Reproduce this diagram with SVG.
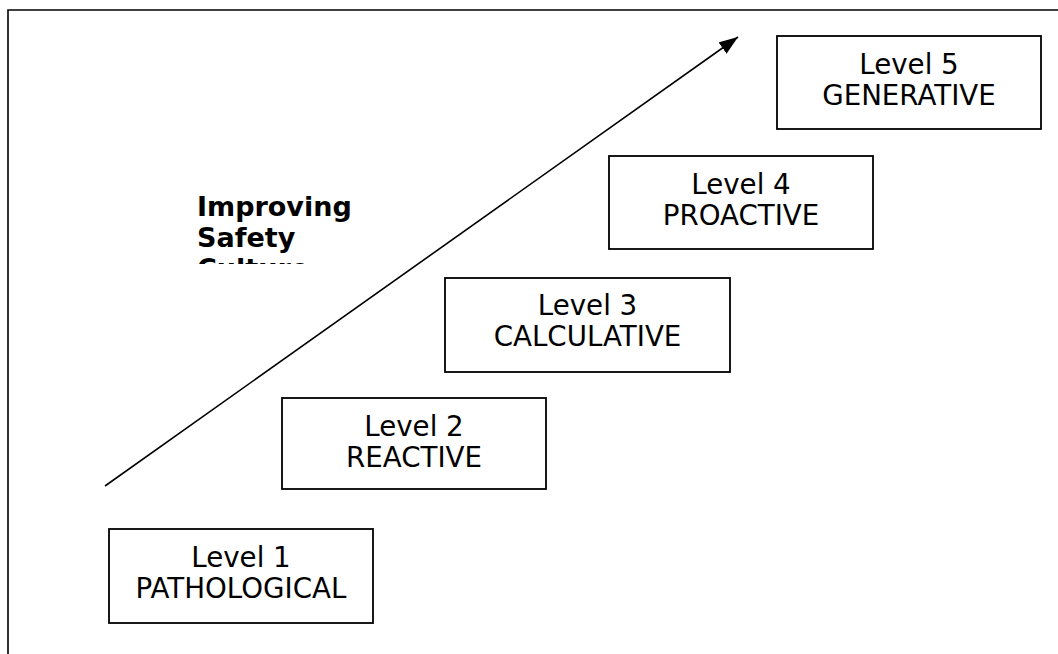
<svg xmlns="http://www.w3.org/2000/svg" width="1058" height="654" viewBox="0 0 1058 654">
  <style>
    .box { fill: #ffffff; stroke: #000000; stroke-width: 1.8; }
    .lbl { font-family: "DejaVu Sans", Verdana, sans-serif; font-size: 27.7px; fill: #000000; text-anchor: middle; }
    .title { font-family: "DejaVu Sans", Verdana, sans-serif; font-size: 27px; font-weight: bold; fill: #000000; }
    .conn { stroke: #000000; stroke-width: 1.6; fill: none; }
  </style>
  <defs>
    <marker id="arrow" markerUnits="userSpaceOnUse" markerWidth="22" markerHeight="16" refX="19" refY="7" orient="auto">
      <path d="M0,0 L19,7 L0,14 z" fill="#000000"/>
    </marker>
    <clipPath id="titleClip">
      <rect x="180" y="180" width="220" height="84"/>
    </clipPath>
  </defs>
  <rect width="1058" height="654" fill="#ffffff"/>
  <path d="M8,654 V10 H1058" fill="none" stroke="#000000" stroke-width="1.6"/>

  <g id="title" clip-path="url(#titleClip)">
    <text class="title" x="197" y="216">Improving</text>
    <text class="title" x="197" y="247">Safety</text>
    <text class="title" x="197" y="278">Culture</text>
  </g>

  <g id="connectors">
    <line class="conn" x1="105" y1="486" x2="738" y2="37" marker-end="url(#arrow)"/>
  </g>

  <g id="level1">
    <rect class="box" x="109" y="529" width="264" height="94"/>
    <text class="lbl" x="241" y="567">Level 1</text>
    <text class="lbl" x="241" y="598">PATHOLOGICAL</text>
  </g>
  <g id="level2">
    <rect class="box" x="282" y="398" width="264" height="91"/>
    <text class="lbl" x="414" y="436">Level 2</text>
    <text class="lbl" x="414" y="467">REACTIVE</text>
  </g>
  <g id="level3">
    <rect class="box" x="445" y="278" width="285" height="94"/>
    <text class="lbl" x="587.5" y="315">Level 3</text>
    <text class="lbl" x="587.5" y="346">CALCULATIVE</text>
  </g>
  <g id="level4">
    <rect class="box" x="609" y="156" width="264" height="93"/>
    <text class="lbl" x="741" y="194">Level 4</text>
    <text class="lbl" x="741" y="225">PROACTIVE</text>
  </g>
  <g id="level5">
    <rect class="box" x="777" y="36" width="264" height="93"/>
    <text class="lbl" x="909" y="74">Level 5</text>
    <text class="lbl" x="909" y="105">GENERATIVE</text>
  </g>
</svg>
